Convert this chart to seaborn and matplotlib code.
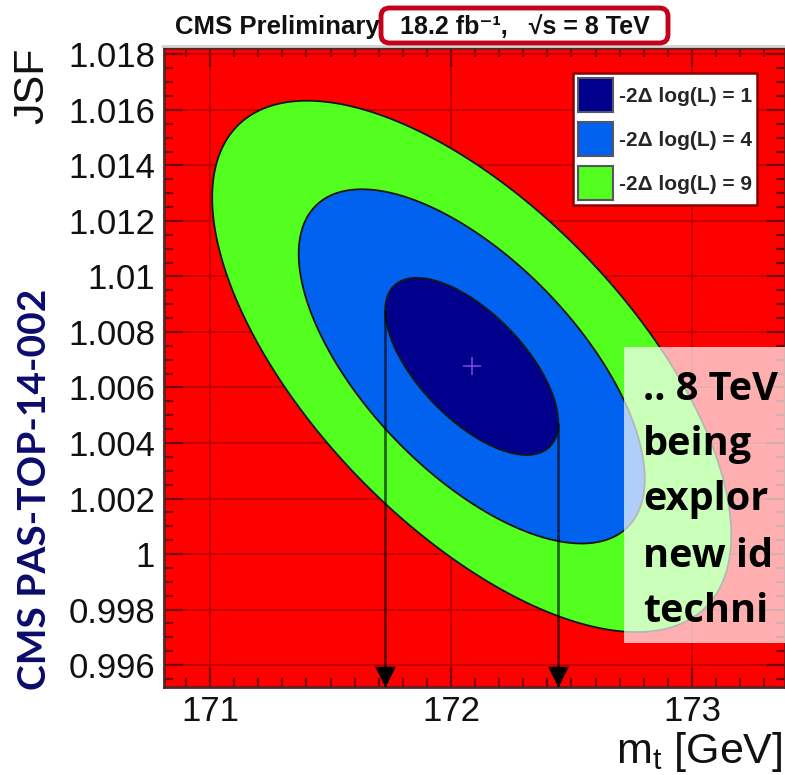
import numpy as np
import matplotlib
matplotlib.use("Agg")
import matplotlib.pyplot as plt
import seaborn as sns
from matplotlib.patches import Patch, Rectangle, FancyBboxPatch
from matplotlib.lines import Line2D
from matplotlib.ticker import MultipleLocator, FixedLocator, FixedFormatter

# ---------------- data ----------------
mt_center = 172.086          # best-fit top mass [GeV]
jsf_center = 1.00676         # best-fit JSF
sigma_mt = 0.359             # 1-sigma extent in m_t
sigma_jsf = 0.00319          # 1-sigma extent in JSF
rho = -0.635                 # correlation
levels = [1, 4, 9]
level_labels = ["-2\u0394 log(L) = 1", "-2\u0394 log(L) = 4", "-2\u0394 log(L) = 9"]
level_colors = ["#00008c", "#0062ee", "#52ff1f"]
x_ticks = [171, 172, 173]
x_tick_labels = ["171", "172", "173"]
y_ticks = [0.996, 0.998, 1.000, 1.002, 1.004, 1.006, 1.008, 1.010, 1.012, 1.014, 1.016, 1.018]
y_tick_labels = ["0.996", "0.998", "1", "1.002", "1.004", "1.006", "1.008", "1.01",
                 "1.012", "1.014", "1.016", "1.018"]
x_range = (170.809, 173.386)
y_range = (0.99521, 1.01823)
overlay_lines = [".. 8 TeV", "being", "explor", "new id", "techni"]

# ---------------- style ----------------
sns.set_theme(style="ticks")
plt.rcParams["font.family"] = ["Liberation Sans", "DejaVu Sans"]
plt.rcParams["mathtext.default"] = "regular"

W, H = 785, 775
fig = plt.figure(figsize=(W / 100, H / 100), dpi=100)
fig.patch.set_facecolor("white")

def fx(px):
    return px / W

def fy(py):
    return 1 - py / H

ax_l, ax_r, ax_t, ax_b = 164, 785, 48, 687
ax = fig.add_axes([fx(ax_l), fy(ax_b), (ax_r - ax_l) / W, (ax_b - ax_t) / H])
ax.set_facecolor("#ff0000")

# likelihood surface from the fitted parameters
gx = np.linspace(x_range[0], x_range[1], 700)
gy = np.linspace(y_range[0], y_range[1], 700)
XX, YY = np.meshgrid(gx, gy)
dx = (XX - mt_center) / sigma_mt
dy = (YY - jsf_center) / sigma_jsf
chi2 = (dx ** 2 - 2 * rho * dx * dy + dy ** 2) / (1 - rho ** 2)

ax.contourf(XX, YY, chi2, levels=[0] + levels, colors=level_colors, zorder=1)
ax.contour(XX, YY, chi2, levels=levels, colors="#151515", linewidths=1.3, zorder=2)

# projections (arrows) of the 1-sigma contour onto the m_t axis
for sgn in (-1, 1):
    xa = mt_center + sgn * sigma_mt
    ya = jsf_center + sgn * rho * sigma_jsf
    ax.vlines(xa, y_range[0], ya, colors="black", alpha=0.6, lw=2.0, zorder=3)
    ax.scatter([xa], [y_range[0]], marker=[(0, 0), (-0.5, 1), (0.5, 1), (0, 0)],
               s=(30) ** 2, color="black", zorder=4, clip_on=False, linewidths=0)

# best-fit marker
sns.scatterplot(x=[mt_center], y=[jsf_center], marker="+", s=160, color="#7048d8",
                linewidth=1.2, ax=ax, zorder=5, legend=False)

ax.set_xlim(*x_range)
ax.set_ylim(*y_range)
ax.xaxis.set_major_locator(FixedLocator(x_ticks))
ax.xaxis.set_major_formatter(FixedFormatter(x_tick_labels))
ax.yaxis.set_major_locator(FixedLocator(y_ticks))
ax.yaxis.set_major_formatter(FixedFormatter(y_tick_labels))
ax.xaxis.set_minor_locator(MultipleLocator(0.1))
ax.yaxis.set_minor_locator(MultipleLocator(0.0005))
ax.set_axisbelow(True)
ax.grid(True, which="major", color="#c40000", lw=1.4)
ax.tick_params(which="both", direction="in", top=True, right=True, color="#760000",
               labelsize=25, labelcolor="#111111")
ax.tick_params(which="major", length=13.5, width=1.6)
ax.tick_params(which="minor", length=6.5, width=1.6)
ax.tick_params(axis="x", pad=6)
ax.tick_params(axis="y", pad=6.5)
for s in ax.spines.values():
    s.set_color("#5c2222")
    s.set_linewidth(2)
ax.set_xlabel("")
ax.set_ylabel("")

# legend
handles = [Patch(facecolor=c, edgecolor="#555566", linewidth=1.5, label=l)
           for c, l in zip(level_colors, level_labels)]
leg_x0 = (573 - ax_l) / (ax_r - ax_l)
leg_y1 = (ax_b - 73) / (ax_b - ax_t)
leg = ax.legend(handles=handles, loc="upper left", bbox_to_anchor=(leg_x0, leg_y1),
                prop={"size": 15, "weight": "bold"}, handlelength=1.68, handleheight=2.14,
                labelspacing=0.48, handletextpad=0.29, borderpad=0.24, borderaxespad=0,
                fancybox=False, framealpha=1, edgecolor="#8a0000", facecolor="white")
leg.get_frame().set_linewidth(1.8)
leg.set_zorder(10)

# thin grey shadow line above the frame
fig.add_artist(Line2D([fx(162), 1.0], [fy(45.5), fy(45.5)], transform=fig.transFigure,
                      color="#cfd6d6", lw=2.0, zorder=1))

# axis titles
fig.text(fx(783), fy(763), "m$_t$ [GeV]", ha="right", va="baseline", fontsize=31,
         color="#111111")
fig.text(fx(32), fy(47), "JSF", ha="center", va="top", rotation=90, fontsize=31,
         color="#111111")

# header
fig.text(fx(175), fy(27), "CMS Preliminary", ha="left", va="center", fontsize=18.5,
         fontweight="bold", color="#111111")
fig.add_artist(FancyBboxPatch((fx(381), fy(43)), (668 - 381) / W, 35 / H,
                              boxstyle="round,pad=0,rounding_size=0.011",
                              transform=fig.transFigure, ec="#c4001a", fc="white", lw=3.5,
                              zorder=2))
fig.text(fx(400), fy(27), "18.2 fb\u207b\u00b9,   \u221as = 8 TeV", ha="left", va="center",
         fontsize=18, fontweight="bold", color="#111111", zorder=3,
         family=["Liberation Sans", "DejaVu Sans"])

# document reference
fig.text(fx(35), fy(489), "CMS PAS-TOP-14-002", rotation=90, ha="center", va="center",
         fontsize=28, fontweight="bold", color="#0b0b6e", family=["Lato", "DejaVu Sans"])

# translucent note box
fig.add_artist(Rectangle((fx(624), fy(643)), 0.3, (643 - 347) / H, transform=fig.transFigure,
                         fc="white", alpha=0.69, ec="none", zorder=6))
baselines = [400, 455, 510, 567, 622]
for line, b in zip(overlay_lines, baselines):
    fig.text(fx(643), fy(b), line, ha="left", va="baseline", fontsize=28.5, fontweight="bold",
             color="black", family=["Open Sans", "DejaVu Sans"], zorder=7)

fig.savefig("out.png", dpi=100)
